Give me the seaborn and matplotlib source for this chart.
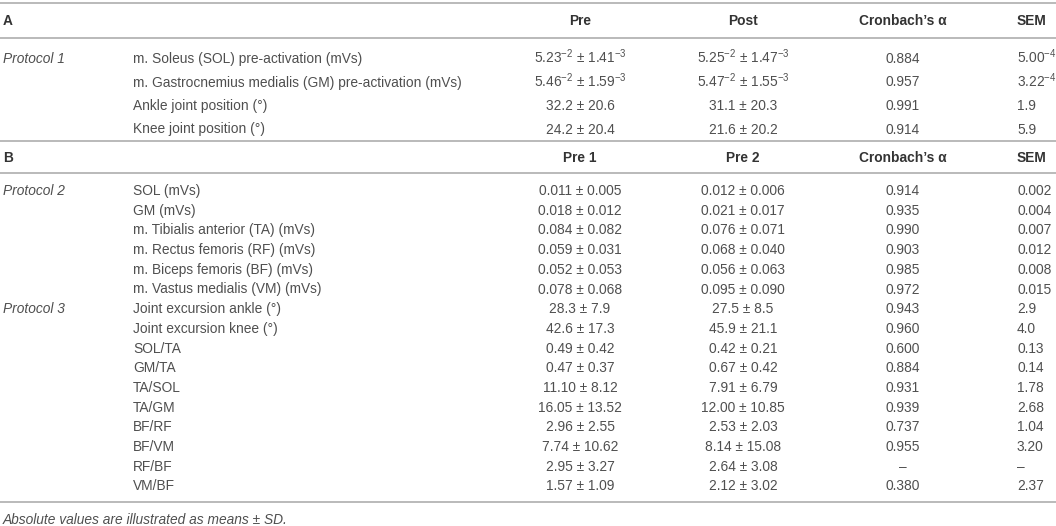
import matplotlib
matplotlib.use("Agg")
import matplotlib.pyplot as plt
import seaborn as sns

# table A: protocol 1, pre vs post
a_labels = ["m. Soleus (SOL) pre-activation (mVs)",
            "m. Gastrocnemius medialis (GM) pre-activation (mVs)",
            "Ankle joint position (°)",
            "Knee joint position (°)"]
a_pre = ["5.23$^{-2}$ ± 1.41$^{-3}$", "5.46$^{-2}$ ± 1.59$^{-3}$", "32.2 ± 20.6", "24.2 ± 20.4"]
a_post = ["5.25$^{-2}$ ± 1.47$^{-3}$", "5.47$^{-2}$ ± 1.55$^{-3}$", "31.1 ± 20.3", "21.6 ± 20.2"]
a_alpha = ["0.884", "0.957", "0.991", "0.914"]
a_sem = ["5.00$^{-4}$", "3.22$^{-4}$", "1.9", "5.9"]

# table B: protocol 2 and 3, pre 1 vs pre 2
b_labels = ["SOL (mVs)", "GM (mVs)", "m. Tibialis anterior (TA) (mVs)",
            "m. Rectus femoris (RF) (mVs)", "m. Biceps femoris (BF) (mVs)",
            "m. Vastus medialis (VM) (mVs)", "Joint excursion ankle (°)",
            "Joint excursion knee (°)", "SOL/TA", "GM/TA", "TA/SOL", "TA/GM",
            "BF/RF", "BF/VM", "RF/BF", "VM/BF"]
b_pre1 = ["0.011 ± 0.005", "0.018 ± 0.012", "0.084 ± 0.082", "0.059 ± 0.031",
          "0.052 ± 0.053", "0.078 ± 0.068", "28.3 ± 7.9", "42.6 ± 17.3",
          "0.49 ± 0.42", "0.47 ± 0.37", "11.10 ± 8.12", "16.05 ± 13.52",
          "2.96 ± 2.55", "7.74 ± 10.62", "2.95 ± 3.27", "1.57 ± 1.09"]
b_pre2 = ["0.012 ± 0.006", "0.021 ± 0.017", "0.076 ± 0.071", "0.068 ± 0.040",
          "0.056 ± 0.063", "0.095 ± 0.090", "27.5 ± 8.5", "45.9 ± 21.1",
          "0.42 ± 0.21", "0.67 ± 0.42", "7.91 ± 6.79", "12.00 ± 10.85",
          "2.53 ± 2.03", "8.14 ± 15.08", "2.64 ± 3.08", "2.12 ± 3.02"]
b_alpha = ["0.914", "0.935", "0.990", "0.903", "0.985", "0.972", "0.943", "0.960",
           "0.600", "0.884", "0.931", "0.939", "0.737", "0.955", "–", "0.380"]
b_sem = ["0.002", "0.004", "0.007", "0.012", "0.008", "0.015", "2.9", "4.0",
         "0.13", "0.14", "1.78", "2.68", "1.04", "3.20", "–", "2.37"]
b_groups = {0: "Protocol 2", 6: "Protocol 3"}

footnote = "Absolute values are illustrated as means ± SD."

sns.set_theme(style="white")
plt.rcParams["font.family"] = ["Liberation Sans", "DejaVu Sans"]
plt.rcParams["mathtext.fontset"] = "custom"
plt.rcParams["mathtext.rm"] = "Liberation Sans"
plt.rcParams["mathtext.it"] = "Liberation Sans:italic"
plt.rcParams["mathtext.bf"] = "Liberation Sans:bold"

fs = 9.9
txt = "#4f4f4f"
hdr = "#333333"
rule = "#b4b4b4"

fig = plt.figure(figsize=(10.56, 5.26), dpi=100)
ax = fig.add_axes([0, 0, 1, 1])
ax.set_xlim(0, 1056)
ax.set_ylim(526, 0)
ax.axis("off")

# column positions (x, align)
cols = [(580, "center"), (743, "center"), (903, "center"), (1017, "left")]
x_group, x_label = 3, 133
base = 5  # baseline offset from row centre


def put(x, y, s, ha="left", **kw):
    kw.setdefault("color", txt)
    ax.text(x, y + base, s, ha=ha, va="baseline", fontsize=fs, **kw)


def header(y, letter, names):
    put(x_group, y, letter, fontweight="bold", color=hdr)
    for (x, ha), n in zip(cols, names):
        put(x, y, n, ha=ha, fontweight="bold", color=hdr)


def rows(y0, step, labels, values, groups):
    for i, lab in enumerate(labels):
        y = y0 + i * step
        if i in groups:
            put(x_group, y, groups[i], style="italic")
        put(x_label, y, lab)
        for (x, ha), col in zip(cols, values):
            put(x, y, col[i], ha=ha)


for y in [2.5, 37.5, 140.5, 173, 502]:
    ax.axhline(y, color=rule, lw=1.3)

header(20, "A", ["Pre", "Post", "Cronbach\u2019s \u03b1", "SEM"])
rows(58, 23.5, a_labels, [a_pre, a_post, a_alpha, a_sem], {0: "Protocol 1"})

header(157, "B", ["Pre 1", "Pre 2", "Cronbach\u2019s \u03b1", "SEM"])
rows(190, 19.7, b_labels, [b_pre1, b_pre2, b_alpha, b_sem], b_groups)

put(x_group, 519, footnote, style="italic")

fig.savefig("out.png", dpi=100)
